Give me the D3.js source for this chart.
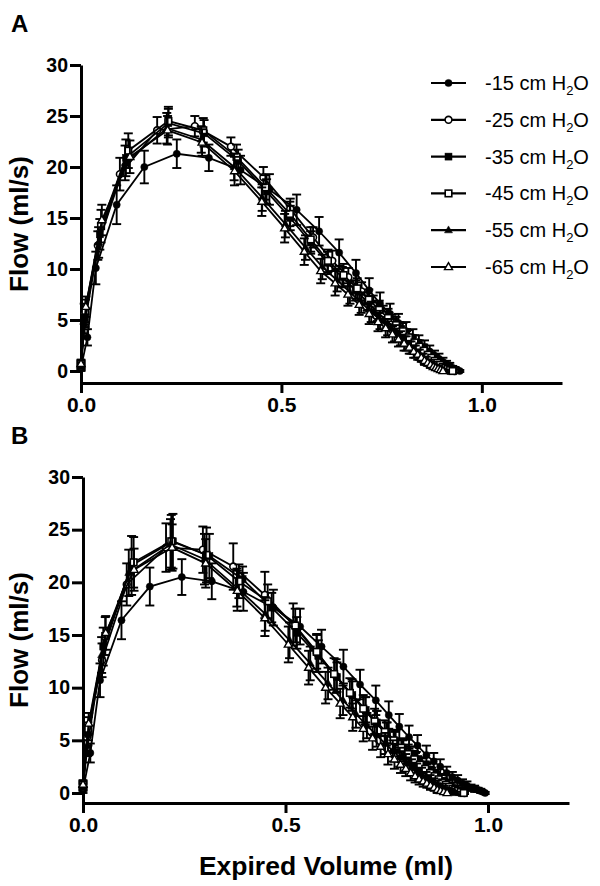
<!DOCTYPE html>
<html><head><meta charset="utf-8">
<script src="https://cdn.jsdelivr.net/npm/d3@7"></script>
<style>body{margin:0;background:#fff}svg{display:block}</style>
</head><body>
<svg id="c" width="600" height="886"></svg>
<script>
const seriesLabels = ["-15", "-25", "-35", "-45", "-55", "-65"];
const markerTypes = ["circleF", "circleO", "squareF", "squareO", "triF", "triO"];
const xTicks = [0, 0.5, 1.0];
const xTickLabels = ["0.0", "0.5", "1.0"];
const yTicks = [0, 5, 10, 15, 20, 25, 30];
const panelLabels = ["A", "B"];
const yTitle = "Flow (ml/s)";
const xTitle = "Expired Volume (ml)";

// each point: [expired volume (ml), flow (ml/s), SEM]
const A_m15 = [[0,0.3,0.3],[0.016,3.3,0.8],[0.037,10.1,1.6],[0.089,16.3,1.9],[0.158,20.0,1.6],[0.239,21.3,1.4],[0.319,20.9,1.3],[0.398,19.7,1.4],[0.470,17.8,1.5],[0.538,15.8,1.5],[0.594,13.7,1.4],[0.644,11.6,1.3],[0.686,9.6,1.3],[0.719,7.9,1.2],[0.746,6.6,1.1],[0.771,5.6,1.0],[0.792,4.7,0.9],[0.811,3.9,0.9],[0.828,3.3,0.8],[0.843,2.8,0.7],[0.857,2.3,0.7],[0.870,1.9,0.6],[0.882,1.5,0.5],[0.893,1.2,0.5],[0.903,0.9,0.4],[0.912,0.7,0.3],[0.920,0.5,0.3],[0.927,0.3,0.2],[0.933,0.2,0.2],[0.939,0.1,0.1],[0.945,0.0,0.1]];
const A_m25 = [[0,0.4,0.3],[0.008,5.6,1.0],[0.042,12.3,1.4],[0.097,19.3,1.6],[0.190,23.6,1.3],[0.284,24.0,1.0],[0.374,22.0,0.9],[0.455,19.0,1.0],[0.522,15.9,1.0],[0.579,13.1,1.0],[0.627,10.8,1.0],[0.667,9.2,0.9],[0.700,7.8,0.9],[0.729,6.6,0.8],[0.754,5.6,0.8],[0.776,4.8,0.7],[0.795,4.1,0.7],[0.812,3.5,0.6],[0.827,2.9,0.6],[0.840,2.5,0.5],[0.852,2.1,0.5],[0.863,1.7,0.4],[0.873,1.4,0.4],[0.882,1.1,0.3],[0.890,0.9,0.3],[0.897,0.7,0.3],[0.904,0.5,0.2],[0.911,0.3,0.2],[0.917,0.2,0.1],[0.924,0.1,0.1],[0.932,0.0,0.1]];
const A_m35 = [[0,0.6,0.3],[0.010,5.2,0.9],[0.047,13.4,1.5],[0.112,20.9,1.8],[0.218,24.3,1.4],[0.307,23.3,1.3],[0.392,20.6,1.1],[0.463,17.6,1.2],[0.522,15.0,1.2],[0.573,12.6,1.1],[0.615,10.6,1.1],[0.652,9.2,1.0],[0.685,7.9,1.0],[0.714,6.8,0.9],[0.739,5.8,0.9],[0.761,5.0,0.8],[0.780,4.3,0.8],[0.797,3.7,0.7],[0.812,3.2,0.7],[0.826,2.7,0.6],[0.838,2.3,0.6],[0.849,1.9,0.5],[0.859,1.6,0.5],[0.868,1.3,0.4],[0.876,1.0,0.4],[0.884,0.8,0.3],[0.891,0.6,0.3],[0.898,0.4,0.2],[0.904,0.3,0.2],[0.910,0.2,0.1],[0.916,0.1,0.1],[0.922,0.0,0.1]];
const A_m45 = [[0,0.8,0.3],[0.011,5.9,1.1],[0.050,14.2,1.6],[0.118,21.6,1.7],[0.218,24.5,1.4],[0.305,23.6,1.2],[0.388,21.0,1.2],[0.460,18.0,1.2],[0.521,15.4,1.2],[0.573,12.9,1.2],[0.616,10.8,1.1],[0.655,9.4,1.1],[0.689,8.1,1.0],[0.718,7.0,1.0],[0.744,6.0,0.9],[0.766,5.2,0.9],[0.786,4.5,0.8],[0.803,3.9,0.8],[0.818,3.3,0.7],[0.832,2.8,0.7],[0.844,2.4,0.6],[0.855,2.0,0.6],[0.865,1.6,0.5],[0.874,1.3,0.5],[0.882,1.0,0.4],[0.889,0.8,0.3],[0.896,0.6,0.3],[0.903,0.4,0.2],[0.909,0.3,0.2],[0.915,0.2,0.1],[0.921,0.1,0.1],[0.927,0.0,0.1]];
const A_m55 = [[0,0.5,0.3],[0.009,4.6,0.9],[0.044,12.6,1.5],[0.110,20.4,1.7],[0.214,23.8,1.5],[0.300,22.7,1.3],[0.382,20.0,1.3],[0.452,17.0,1.3],[0.510,14.4,1.3],[0.560,12.1,1.2],[0.602,10.2,1.2],[0.639,8.9,1.1],[0.671,7.7,1.1],[0.699,6.7,1.0],[0.724,5.8,1.0],[0.746,5.0,0.9],[0.765,4.3,0.8],[0.782,3.7,0.8],[0.797,3.2,0.7],[0.811,2.7,0.7],[0.823,2.3,0.6],[0.834,1.9,0.6],[0.844,1.6,0.5],[0.853,1.3,0.4],[0.861,1.0,0.4],[0.869,0.8,0.3],[0.876,0.6,0.3],[0.883,0.4,0.2],[0.889,0.3,0.2],[0.895,0.2,0.1],[0.901,0.1,0.1],[0.907,0.0,0.1]];
const A_m65 = [[0,0.7,0.3],[0.012,6.3,1.0],[0.052,14.8,1.5],[0.122,21.0,1.6],[0.216,23.6,1.4],[0.302,22.4,1.3],[0.383,19.6,1.4],[0.451,16.6,1.4],[0.508,14.0,1.4],[0.557,11.7,1.3],[0.598,9.8,1.2],[0.634,8.6,1.2],[0.666,7.5,1.1],[0.694,6.5,1.0],[0.719,5.6,1.0],[0.741,4.8,0.9],[0.760,4.2,0.9],[0.777,3.6,0.8],[0.792,3.1,0.7],[0.806,2.7,0.7],[0.819,2.3,0.6],[0.830,1.9,0.6],[0.840,1.6,0.5],[0.849,1.3,0.4],[0.857,1.0,0.4],[0.865,0.8,0.3],[0.872,0.6,0.3],[0.879,0.4,0.2],[0.885,0.3,0.2],[0.891,0.2,0.1],[0.897,0.1,0.1],[0.903,0.0,0.1]];

const B_m15 = [[0,0.3,0.3],[0.018,3.8,0.9],[0.042,10.7,1.6],[0.095,16.4,1.8],[0.165,19.6,1.8],[0.244,20.5,1.7],[0.318,20.1,1.7],[0.396,19.1,1.8],[0.470,17.6,1.7],[0.536,15.8,1.7],[0.589,13.9,1.6],[0.643,12.0,1.6],[0.684,10.3,1.4],[0.723,8.8,1.4],[0.755,7.4,1.3],[0.781,6.3,1.2],[0.805,5.3,1.1],[0.826,4.5,1.0],[0.848,3.6,0.9],[0.866,3.0,0.8],[0.882,2.5,0.7],[0.898,1.9,0.6],[0.912,1.5,0.5],[0.925,1.2,0.5],[0.937,0.9,0.4],[0.948,0.7,0.4],[0.958,0.5,0.3],[0.967,0.4,0.3],[0.975,0.3,0.2],[0.982,0.2,0.2],[0.988,0.1,0.1],[0.993,0.0,0.1]];
const B_m25 = [[0,0.5,0.3],[0.010,5.3,1.0],[0.047,12.6,1.6],[0.108,19.8,2.0],[0.205,23.3,2.3],[0.296,23.1,2.2],[0.371,21.5,2.2],[0.449,18.8,2.2],[0.519,16.0,2.0],[0.577,13.3,1.8],[0.625,11.1,1.6],[0.664,9.3,1.5],[0.697,7.8,1.3],[0.725,6.6,1.2],[0.749,5.6,1.1],[0.770,4.8,1.0],[0.789,4.1,0.9],[0.806,3.5,0.9],[0.821,3.0,0.8],[0.835,2.6,0.7],[0.848,2.2,0.7],[0.860,1.8,0.6],[0.871,1.5,0.5],[0.881,1.2,0.5],[0.890,1.0,0.4],[0.899,0.8,0.4],[0.907,0.6,0.3],[0.915,0.4,0.3],[0.922,0.3,0.2],[0.929,0.2,0.2],[0.936,0.1,0.1],[0.942,0.0,0.1]];
const B_m35 = [[0,0.7,0.3],[0.012,5.6,1.1],[0.050,13.9,1.8],[0.120,21.6,2.8],[0.222,23.9,2.6],[0.312,22.5,2.1],[0.394,20.3,1.2],[0.466,17.6,1.4],[0.528,15.2,1.5],[0.581,13.0,1.5],[0.627,11.0,1.4],[0.665,9.3,1.3],[0.698,7.9,1.2],[0.726,6.7,1.1],[0.751,5.7,1.0],[0.772,4.9,1.0],[0.791,4.2,0.9],[0.808,3.6,0.8],[0.823,3.1,0.8],[0.837,2.6,0.7],[0.849,2.2,0.6],[0.860,1.8,0.6],[0.870,1.5,0.5],[0.879,1.2,0.5],[0.888,1.0,0.4],[0.896,0.8,0.4],[0.903,0.6,0.3],[0.910,0.4,0.3],[0.917,0.3,0.2],[0.923,0.2,0.2],[0.929,0.1,0.1],[0.935,0.0,0.1]];
const B_m45 = [[0,0.9,0.3],[0.013,6.1,1.1],[0.055,14.9,1.8],[0.125,21.9,2.4],[0.218,23.9,2.5],[0.305,22.6,2.6],[0.385,20.1,1.6],[0.456,18.2,1.6],[0.524,15.9,1.6],[0.577,13.4,1.6],[0.620,11.3,1.5],[0.659,9.5,1.4],[0.692,8.0,1.3],[0.720,6.8,1.2],[0.745,5.8,1.1],[0.767,5.0,1.0],[0.786,4.3,0.9],[0.803,3.7,0.9],[0.818,3.2,0.8],[0.832,2.7,0.7],[0.845,2.3,0.7],[0.857,1.9,0.6],[0.868,1.6,0.5],[0.878,1.3,0.5],[0.887,1.0,0.4],[0.896,0.8,0.4],[0.904,0.6,0.3],[0.912,0.4,0.3],[0.919,0.3,0.2],[0.926,0.2,0.2],[0.933,0.1,0.1],[0.940,0.0,0.1]];
const B_m55 = [[0,0.6,0.3],[0.011,4.5,1.0],[0.046,13.1,1.7],[0.113,20.9,2.2],[0.216,23.6,2.4],[0.300,22.2,2.4],[0.380,19.5,1.8],[0.450,17.0,1.6],[0.510,14.5,1.7],[0.561,12.3,1.6],[0.605,10.4,1.5],[0.642,8.8,1.4],[0.674,7.5,1.3],[0.701,6.4,1.2],[0.725,5.5,1.1],[0.746,4.7,1.0],[0.765,4.0,1.0],[0.782,3.4,0.9],[0.797,2.9,0.8],[0.811,2.5,0.7],[0.824,2.1,0.7],[0.836,1.8,0.6],[0.847,1.5,0.5],[0.857,1.2,0.5],[0.866,1.0,0.4],[0.875,0.8,0.4],[0.883,0.6,0.3],[0.891,0.4,0.3],[0.899,0.3,0.2],[0.906,0.2,0.2],[0.913,0.1,0.1],[0.920,0.0,0.1]];
const B_m65 = [[0,0.8,0.3],[0.014,6.6,1.0],[0.056,15.2,1.6],[0.126,21.2,2.0],[0.220,23.3,2.2],[0.303,21.8,2.3],[0.381,19.2,1.9],[0.449,16.6,1.7],[0.507,14.1,1.7],[0.557,11.9,1.6],[0.599,10.0,1.5],[0.635,8.5,1.4],[0.666,7.2,1.3],[0.692,6.1,1.2],[0.715,5.2,1.1],[0.735,4.4,1.0],[0.753,3.7,1.0],[0.769,3.2,0.9],[0.784,2.7,0.8],[0.797,2.3,0.7],[0.809,1.9,0.7],[0.820,1.6,0.6],[0.830,1.3,0.5],[0.840,1.1,0.5],[0.849,0.9,0.4],[0.858,0.7,0.4],[0.867,0.5,0.3],[0.875,0.3,0.3],[0.883,0.2,0.2],[0.891,0.1,0.2],[0.899,0.0,0.1]];

const panelSeries = [
  [A_m15, A_m25, A_m35, A_m45, A_m55, A_m65],
  [B_m15, B_m25, B_m35, B_m45, B_m55, B_m65]
];

// layout (pixels)
const layout = [
  {x0: 81, x1: 562, yTop: 65, yZero: 371, axisY: 383, labelY: 32, legend: true},
  {x0: 83, x1: 569, yTop: 477, yZero: 793, axisY: 803, labelY: 444, legend: false}
];

const svg = d3.select("#c");
const FONT = "Liberation Sans, Arial, Helvetica, sans-serif";

function drawMarker(g, type, cx, cy) {
  const filled = type.endsWith("F");
  const fill = filled ? "#000" : "#fff";
  if (type.startsWith("circle")) {
    g.append("circle").attr("cx", cx).attr("cy", cy).attr("r", filled ? 3.6 : 3.4)
      .attr("fill", fill).attr("stroke", "#000").attr("stroke-width", filled ? 0.5 : 1.6);
  } else if (type.startsWith("square")) {
    const s = filled ? 7 : 6.6;
    g.append("rect").attr("x", cx - s / 2).attr("y", cy - s / 2).attr("width", s).attr("height", s)
      .attr("fill", fill).attr("stroke", "#000").attr("stroke-width", filled ? 0.5 : 1.6);
  } else {
    const s = 8, h = s * 0.866;
    const pts = [[cx, cy - h * 0.62], [cx - s / 2, cy + h * 0.38], [cx + s / 2, cy + h * 0.38]];
    g.append("path").attr("d", "M" + pts.map(p => p.join(",")).join("L") + "Z")
      .attr("fill", fill).attr("stroke", "#000").attr("stroke-width", filled ? 0.5 : 1.4)
      .attr("stroke-linejoin", "miter");
  }
}

layout.forEach((L, pi) => {
  const yMinVal = 30 * (L.yZero - L.axisY) / (L.yZero - L.yTop); // value at x-axis level (negative)
  const x = d3.scaleLinear().domain([0, 1.2]).range([L.x0, L.x1]);
  const y = d3.scaleLinear().domain([yMinVal, 30]).range([L.axisY, L.yTop]);
  const g = svg.append("g");

  // panel label
  svg.append("text").attr("x", 11).attr("y", L.labelY).text(panelLabels[pi])
    .attr("font-family", FONT).attr("font-weight", "bold").attr("font-size", 24);

  // axes
  const yAxis = d3.axisLeft(y).tickValues(yTicks).tickSize(11).tickSizeOuter(0).tickPadding(2)
    .tickFormat(d3.format("d"));
  const gy = g.append("g").attr("transform", `translate(${x(0)},0)`).call(yAxis);
  const xAxis = d3.axisBottom(x).tickValues(xTicks).tickSize(10).tickSizeOuter(0).tickPadding(4)
    .tickFormat((d, i) => xTickLabels[i]);
  const gx = g.append("g").attr("transform", `translate(0,${y(yMinVal)})`).call(xAxis);
  [gx, gy].forEach(a => {
    a.select(".domain").attr("stroke", "#000").attr("stroke-width", 3);
    a.selectAll(".tick line").attr("stroke", "#000").attr("stroke-width", 3);
    a.selectAll(".tick text").attr("fill", "#000").attr("font-family", FONT)
      .attr("font-weight", "bold");
  });
  gy.selectAll(".tick text").attr("font-size", 19.5);
  gx.selectAll(".tick text").attr("font-size", 21);

  // y title
  svg.append("text").attr("transform", `translate(28,${(L.yTop + L.axisY) / 2}) rotate(-90)`)
    .attr("text-anchor", "middle").text(yTitle)
    .attr("font-family", FONT).attr("font-weight", "bold").attr("font-size", 26);

  const line = d3.line().x(d => x(d[0])).y(d => y(d[1]));
  const series = panelSeries[pi];
  series.forEach((data, si) => {
    const sg = g.append("g");
    const eb = sg.append("g").attr("stroke", "#000").attr("stroke-width", 1.9);
    data.forEach(d => {
      const px = x(d[0]), yh = y(d[1] + d[2]), yl = y(d[1] - d[2]);
      eb.append("line").attr("x1", px).attr("x2", px).attr("y1", yh).attr("y2", yl);
      eb.append("line").attr("x1", px - 4.5).attr("x2", px + 4.5).attr("y1", yh).attr("y2", yh);
      eb.append("line").attr("x1", px - 4.5).attr("x2", px + 4.5).attr("y1", yl).attr("y2", yl);
    });
    sg.append("path").datum(data).attr("d", line).attr("fill", "none")
      .attr("stroke", "#000").attr("stroke-width", 1.8);
    data.forEach(d => drawMarker(sg, markerTypes[si], x(d[0]), y(d[1])));
  });

  if (L.legend) {
    const lg = svg.append("g");
    seriesLabels.forEach((lab, i) => {
      const cy = 83 + i * 36.8;
      lg.append("line").attr("x1", 431).attr("x2", 466).attr("y1", cy).attr("y2", cy)
        .attr("stroke", "#000").attr("stroke-width", 2.2);
      drawMarker(lg, markerTypes[i], 448.5, cy);
      const t = lg.append("text").attr("x", 485).attr("y", cy + 7)
        .attr("font-family", FONT).attr("font-size", 20).attr("fill", "#000");
      t.append("tspan").text(lab + " cm H");
      t.append("tspan").text("2").attr("font-size", 13).attr("dy", 5);
      t.append("tspan").text("O").attr("dy", -5);
    });
  }

  if (pi === 1) {
    svg.append("text").attr("x", (L.x0 + L.x1) / 2).attr("y", 875).attr("text-anchor", "middle")
      .text(xTitle).attr("font-family", FONT).attr("font-weight", "bold").attr("font-size", 26.5);
  }
});
</script>
</body></html>
